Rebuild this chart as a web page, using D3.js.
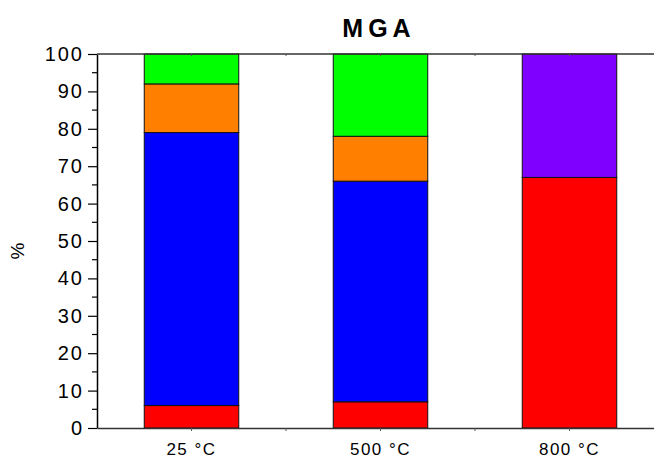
<!DOCTYPE html>
<html>
<head>
<meta charset="utf-8">
<script src="https://cdn.jsdelivr.net/npm/d3@7"></script>
<style>
  html, body { margin: 0; padding: 0; background: #fff; }
  svg { display: block; font-family: Arial, "Liberation Sans", sans-serif; }
</style>
</head>
<body>
<svg id="chart" width="654" height="459"></svg>
<script>
// ---- data ----
const categories = ["25 °C", "500 °C", "800 °C"];
const seriesNames = ["red", "blue", "orange", "green", "purple"];
const redValues    = [6, 7, 67];
const blueValues   = [73, 59, 0];
const orangeValues = [13, 12, 0];
const greenValues  = [8, 22, 0];
const purpleValues = [0, 0, 33];
const seriesColors = ["#FF0000", "#0000FF", "#FF8000", "#00FF00", "#8000FF"];
const yTicks = [0, 10, 20, 30, 40, 50, 60, 70, 80, 90, 100];
const titleText = "MGA";
const yTitle = "%";

const table = categories.map((c, i) => ({
  cat: c,
  red: redValues[i], blue: blueValues[i], orange: orangeValues[i],
  green: greenValues[i], purple: purpleValues[i]
}));

const svg = d3.select("#chart");
const mLeft = 97, mTop = 54, mBottom = 428, mRight = 664;

const x = d3.scaleBand().domain(categories).range([mLeft, mRight]).paddingInner(0.5).paddingOuter(0.25);
const y = d3.scaleLinear().domain([0, 100]).range([mBottom, mTop]);

const stack = d3.stack().keys(seriesNames);
const layers = stack(table);
const color = d3.scaleOrdinal().domain(seriesNames).range(seriesColors);

// bars
const g = svg.append("g");
layers.forEach(layer => {
  g.selectAll(null).data(layer.filter(d => d[1] - d[0] > 0)).enter().append("rect")
    .attr("x", d => x(d.data.cat))
    .attr("y", d => y(d[1]))
    .attr("width", x.bandwidth())
    .attr("height", d => y(d[0]) - y(d[1]))
    .attr("fill", color(layer.key))
    .attr("stroke", "#111")
    .attr("stroke-width", 1);
});

// left axis
const yAxis = d3.axisLeft(y).tickValues(yTicks).tickSize(9).tickPadding(4).tickSizeOuter(0);
const ya = svg.append("g").attr("transform", `translate(${mLeft},0)`).call(yAxis);
ya.select(".domain").attr("stroke", "#000").attr("stroke-width", 1.5);
ya.selectAll(".tick line").attr("stroke", "#000").attr("stroke-width", 1.2);
ya.selectAll(".tick text").attr("font-size", 20).attr("fill", "#000")
  .style("letter-spacing", "2px").attr("font-family", "Arial, 'Liberation Sans', sans-serif");

// minor y ticks
const minor = d3.range(5, 100, 10);
svg.append("g").selectAll("line").data(minor).enter().append("line")
  .attr("x1", mLeft - 5).attr("x2", mLeft)
  .attr("y1", d => y(d)).attr("y2", d => y(d))
  .attr("stroke", "#000").attr("stroke-width", 1.2);

// top and bottom frame lines
svg.append("line").attr("x1", mLeft).attr("x2", 654).attr("y1", mTop).attr("y2", mTop)
  .attr("stroke", "#333").attr("stroke-width", 1.5);
const xAxis = d3.axisBottom(x).tickSize(3).tickPadding(12).tickSizeOuter(0);
const xa = svg.append("g").attr("transform", `translate(0,${mBottom})`).call(xAxis);
xa.select(".domain").attr("stroke", "#333").attr("stroke-width", 1.5);
xa.selectAll(".tick line").attr("stroke", "#555");
xa.selectAll(".tick text").attr("font-size", 17).attr("fill", "#000")
  .style("letter-spacing", "1.5px").attr("font-family", "Arial, 'Liberation Sans', sans-serif");

// minor x ticks (between categories)
const mids = categories.slice(0, -1).map((c, i) => (x(c) + x(categories[i + 1])) / 2 + x.bandwidth() / 2);
svg.append("g").selectAll("line").data(mids).enter().append("line")
  .attr("x1", d => d).attr("x2", d => d).attr("y1", mBottom).attr("y2", mBottom + 3)
  .attr("stroke", "#555");
// top small ticks
svg.append("g").selectAll("line").data(categories.map(c => x(c) + x.bandwidth() / 2).concat(mids)).enter().append("line")
  .attr("x1", d => d).attr("x2", d => d).attr("y1", mTop).attr("y2", mTop + 2)
  .attr("stroke", "#555");

// title
svg.append("text").attr("x", 379).attr("y", 37).attr("text-anchor", "middle")
  .attr("font-size", 25).attr("font-weight", "bold").style("letter-spacing", "5px")
  .text(titleText);

// y title
svg.append("text").attr("transform", "translate(24,251) rotate(-90)")
  .attr("text-anchor", "middle").attr("font-size", 19).text(yTitle);
</script>
</body>
</html>
